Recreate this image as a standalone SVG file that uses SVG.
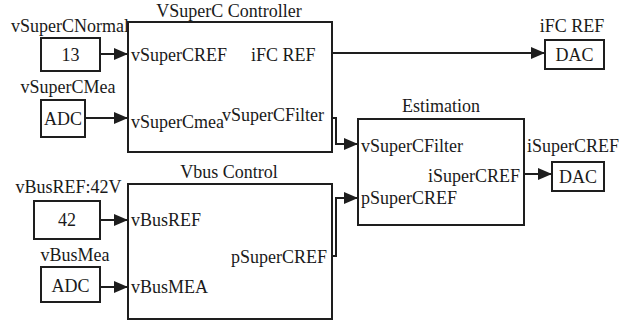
<svg xmlns="http://www.w3.org/2000/svg" width="634" height="325" viewBox="0 0 634 325">
<style>
  .bx{fill:#fff;stroke:#1e1e1e;stroke-width:2}
  .ln{fill:none;stroke:#1e1e1e;stroke-width:2}
  .m{text-anchor:middle}
  .e{text-anchor:end}
</style>
<defs>
  <marker id="ah" markerUnits="userSpaceOnUse" markerWidth="16" markerHeight="14" refX="15" refY="7" orient="auto">
    <path d="M1,1 L15,7 L1,13 Z" fill="#1e1e1e"/>
  </marker>
</defs>
<rect width="634" height="325" fill="#fff"/>
<g font-family="Liberation Serif" font-size="18" fill="#1a1a1a">

<g id="controller">
  <rect class="bx" x="128" y="22" width="204" height="130"/>
  <text class="m" x="229" y="17">VSuperC Controller</text>
  <text x="131" y="61">vSuperCREF</text>
  <text x="251" y="61">iFC REF</text>
  <text x="131" y="128">vSuperCmea</text>
  <text x="222" y="121">vSuperCFilter</text>
</g>

<g id="const13">
  <text class="m" x="70" y="32">vSuperCNormal</text>
  <rect class="bx" x="41" y="38" width="59" height="33"/>
  <text class="m" x="70.5" y="61">13</text>
</g>

<g id="adc1">
  <text class="m" x="68" y="93">vSuperCMea</text>
  <rect class="bx" x="41" y="100" width="44" height="37"/>
  <text class="m" x="63" y="125">ADC</text>
</g>

<g id="dac1">
  <text class="m" x="572" y="32">iFC REF</text>
  <rect class="bx" x="545" y="40" width="59" height="29"/>
  <text class="m" x="574.5" y="61">DAC</text>
</g>

<g id="estimation">
  <rect class="bx" x="358" y="119" width="166" height="106"/>
  <text class="m" x="441" y="112">Estimation</text>
  <text x="361" y="152">vSuperCFilter</text>
  <text class="e" x="520" y="182">iSuperCREF</text>
  <text x="361" y="204">pSuperCREF</text>
  <text x="527" y="152">iSuperCREF</text>
</g>

<g id="dac2">
  <rect class="bx" x="552" y="162" width="52" height="29"/>
  <text class="m" x="578" y="183">DAC</text>
</g>

<g id="vbus">
  <rect class="bx" x="128" y="184" width="204" height="135"/>
  <text class="m" x="229" y="178">Vbus Control</text>
  <text x="131" y="226">vBusREF</text>
  <text x="131" y="293">vBusMEA</text>
  <text class="e" x="327" y="263">pSuperCREF</text>
</g>

<g id="const42">
  <text class="m" x="68.5" y="193">vBusREF:42V</text>
  <rect class="bx" x="34" y="201" width="66" height="38"/>
  <text class="m" x="67" y="226">42</text>
</g>

<g id="adc2">
  <text class="m" x="75" y="261">vBusMea</text>
  <rect class="bx" x="41" y="267" width="59" height="35"/>
  <text class="m" x="70.5" y="292">ADC</text>
</g>
</g>

<g id="connectors">
  <line class="ln" x1="100" y1="54" x2="128" y2="54" marker-end="url(#ah)"/>
  <line class="ln" x1="85" y1="118" x2="128" y2="118" marker-end="url(#ah)"/>
  <line class="ln" x1="332" y1="53" x2="545" y2="53" marker-end="url(#ah)"/>
  <polyline class="ln" points="332,118 336,118 336,144 358,144" marker-end="url(#ah)"/>
  <polyline class="ln" points="332,256 336,256 336,198 358,198" marker-end="url(#ah)"/>
  <line class="ln" x1="524" y1="174" x2="552" y2="174" marker-end="url(#ah)"/>
  <line class="ln" x1="100" y1="220" x2="128" y2="220" marker-end="url(#ah)"/>
  <line class="ln" x1="100" y1="287" x2="128" y2="287" marker-end="url(#ah)"/>
</g>
</svg>
